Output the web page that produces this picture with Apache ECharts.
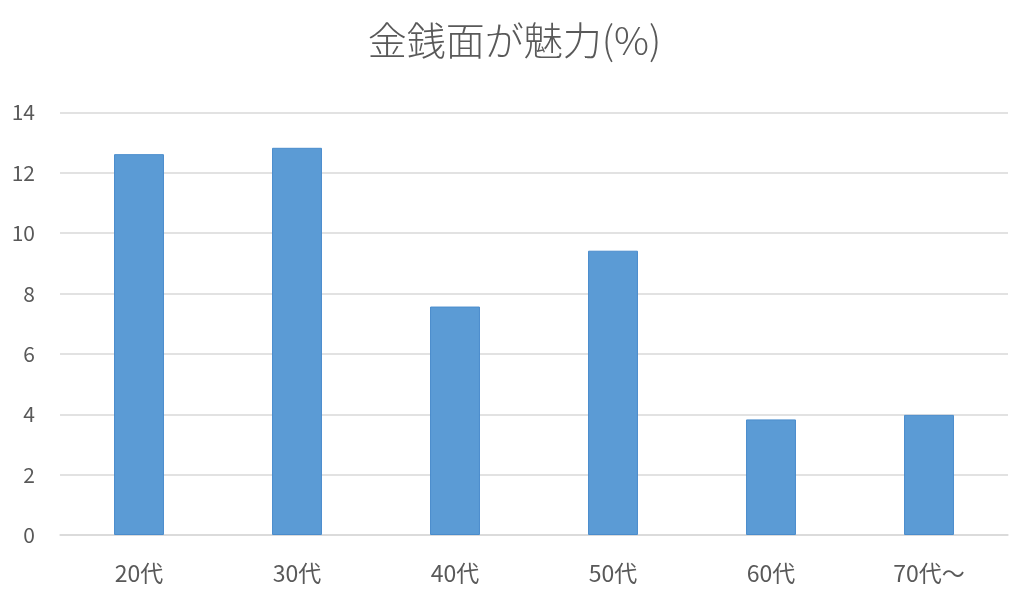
<!DOCTYPE html>
<html>
<head>
<meta charset="utf-8">
<script src="https://cdn.jsdelivr.net/npm/echarts@6/dist/echarts.min.js"></script>
<style>
  html, body { margin: 0; padding: 0; background: #fff; }
  #chart { width: 1029px; height: 603px; }
</style>
</head>
<body>
<div id="chart"></div>
<script>
var categories = ['20代', '30代', '40代', '50代', '60代', '70代～'];
var values = [12.62, 12.83, 7.57, 9.42, 3.83, 3.98];
var yTicks = [0, 2, 4, 6, 8, 10, 12, 14];

var font = '"Noto Sans CJK JP", "Open Sans", sans-serif';
var chart = echarts.init(document.getElementById('chart'));

chart.setOption({
    backgroundColor: '#fff',
    animation: false,
    title: {
        text: '金銭面が魅力(%)',
        left: 'center',
        top: 16,
        textStyle: { fontFamily: font, fontSize: 39, fontWeight: 300, color: '#595959' }
    },
    grid: { left: 60, right: 21, top: 112.5, bottom: 68, containLabel: false },
    xAxis: {
        type: 'category',
        data: categories,
        axisLine: { lineStyle: { color: '#d9d9d9', width: 1.5 } },
        axisTick: { show: false },
        axisLabel: { fontFamily: font, fontSize: 23, color: '#595959', margin: 27 }
    },
    yAxis: {
        type: 'value',
        min: yTicks[0],
        max: yTicks[yTicks.length - 1],
        interval: 2,
        axisLine: { show: false },
        axisTick: { show: false },
        splitLine: { lineStyle: { color: '#d9d9d9', width: 1.5 } },
        axisLabel: { fontFamily: font, fontSize: 21, color: '#595959', margin: 25 }
    },
    series: [{
        type: 'bar',
        data: values,
        barWidth: '31.6%',
        itemStyle: { color: '#5b9bd5', borderColor: '#4a8ccc', borderWidth: 1 }
    }]
});
</script>
</body>
</html>
